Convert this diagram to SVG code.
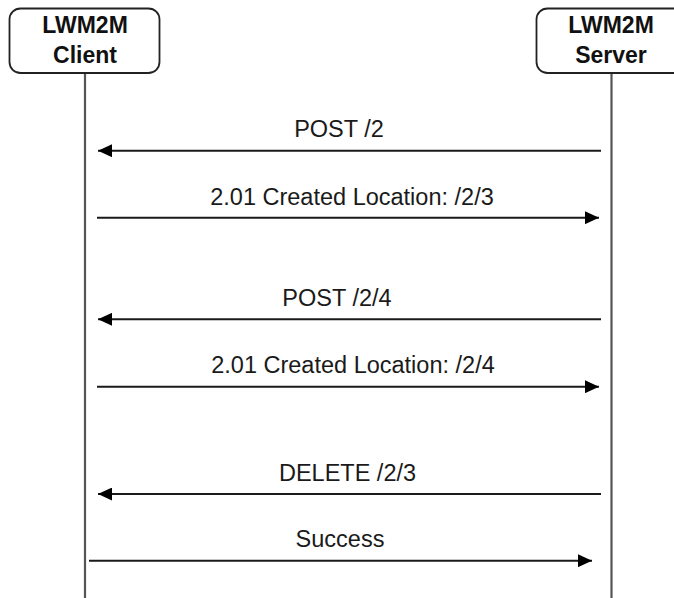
<svg xmlns="http://www.w3.org/2000/svg" width="674" height="598" viewBox="0 0 674 598">
<defs>
<style>
.box{fill:#fff;stroke:#222;stroke-width:1.8}
.life{stroke:#555;stroke-width:2.2;fill:none}
.hdr{font-family:"Liberation Sans",Arial,sans-serif;font-weight:bold;font-size:23px;fill:#111;text-anchor:middle}
.lbl{font-family:"Liberation Sans",Arial,sans-serif;font-size:23.5px;fill:#1a1a1a;text-anchor:middle}
.msg{stroke:#1a1a1a;stroke-width:2;fill:none}
</style>
<marker id="ah" viewBox="0 0 14 13" refX="14" refY="6.5" markerWidth="14" markerHeight="13" markerUnits="userSpaceOnUse" orient="auto">
<path d="M0,0 L14,6.5 L0,13 Z" fill="#000"/>
</marker>
</defs>
<g id="lifelines">
<line class="life" x1="85" y1="73" x2="85" y2="598"/>
<line class="life" x1="611.5" y1="73" x2="611.5" y2="598"/>
</g>
<g id="client">
<rect class="box" x="9.5" y="8.5" width="150" height="64.5" rx="11"/>
<text class="hdr" x="85" y="33">LWM2M</text>
<text class="hdr" x="85" y="63">Client</text>
</g>
<g id="server">
<rect class="box" x="536.5" y="8.5" width="150" height="64.5" rx="11"/>
<text class="hdr" x="611" y="33">LWM2M</text>
<text class="hdr" x="611" y="63">Server</text>
</g>
<g id="connectors">
<line class="msg" x1="601" y1="150.7" x2="98" y2="150.7" marker-end="url(#ah)"/>
<line class="msg" x1="97" y1="217.7" x2="599" y2="217.7" marker-end="url(#ah)"/>
<line class="msg" x1="601" y1="319.3" x2="98" y2="319.3" marker-end="url(#ah)"/>
<line class="msg" x1="97" y1="386.7" x2="599" y2="386.7" marker-end="url(#ah)"/>
<line class="msg" x1="601" y1="494" x2="98" y2="494" marker-end="url(#ah)"/>
<line class="msg" x1="89" y1="560.7" x2="592" y2="560.7" marker-end="url(#ah)"/>
</g>
<g id="labels">
<text class="lbl" x="339" y="137">POST /2</text>
<text class="lbl" x="352" y="205">2.01 Created Location: /2/3</text>
<text class="lbl" x="337" y="306">POST /2/4</text>
<text class="lbl" x="353" y="373">2.01 Created Location: /2/4</text>
<text class="lbl" x="347.5" y="481">DELETE /2/3</text>
<text class="lbl" x="340" y="547">Success</text>
</g>
</svg>
